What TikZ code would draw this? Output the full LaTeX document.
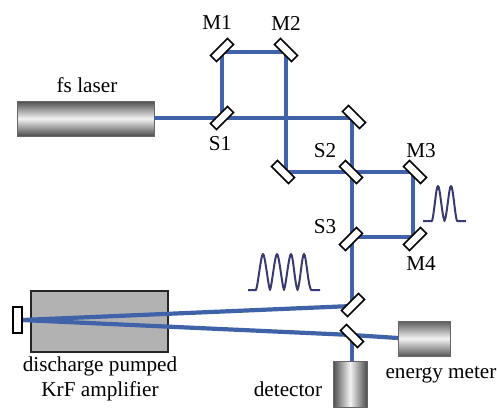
\documentclass[tikz,border=0pt]{standalone}
\usepackage{fontspec}
\setmainfont{Liberation Serif}
\definecolor{beamblue}{HTML}{3F62A8}
\definecolor{pulseblue}{HTML}{3A3A72}
\tikzset{
  mirror/.style={draw=black, fill=white, line width=1.5pt, rectangle, minimum width=24pt, minimum height=8.5pt, inner sep=0pt},
  beam/.style={draw=beamblue, line width=4.2pt},
  pulse/.style={draw=pulseblue, line width=2pt, line join=round},
  lbl/.style={font=\fontsize{21.2}{25}\selectfont, inner sep=0pt}
}
\begin{document}
\begin{tikzpicture}[x=1pt,y=-1pt]
\useasboundingbox (0,0) rectangle (497,407);
\coordinate (hlaser) at (154,118);
\coordinate (hS1) at (222,118);
\coordinate (hM1) at (222,52);
\coordinate (hM2) at (286,52);
\coordinate (hM5) at (352,118);
\coordinate (hM6) at (286,172);
\coordinate (hS2) at (352,172);
\coordinate (hM3) at (413,172);
\coordinate (hM4) at (413,237);
\coordinate (hS3) at (352,237);
\coordinate (hM7) at (352,306);
\coordinate (hM8) at (352,335);
\coordinate (hend) at (22,320);
\coordinate (hmeter) at (398,338);
\coordinate (hdet) at (352,361);
% devices
\node[draw=black!85, line width=1.5pt, fill=black!30, minimum width=137pt, minimum height=61pt, inner sep=0pt] (amp) at (99.5,321.5){};
\shade[top color=black!70, bottom color=black!70, middle color=black!5] (17,101) rectangle (154,136);
\node[draw=black!60, line width=0.8pt, minimum width=137pt, minimum height=35pt, inner sep=0pt] (laser) at (85.5,118.5){};
\shade[top color=black!65, bottom color=black!65, middle color=black!5] (398,321) rectangle (450,356);
\node[draw=black!60, line width=0.8pt, minimum width=52pt, minimum height=35pt, inner sep=0pt] (meter) at (424,338.5){};
\shade[left color=black!70, right color=black!70, middle color=black!5] (333,361) rectangle (367,407);
\node[draw=black!60, line width=0.8pt, minimum width=34pt, minimum height=46pt, inner sep=0pt] (det) at (350,384){};
% beams
\draw[beam](hlaser) -- (hS1);
\draw[beam](hS1) -- (hM1);
\draw[beam](hM1) -- (hM2);
\draw[beam](hM2) -- (hM6);
\draw[beam](hS1) -- (hM5);
\draw[beam](hM5) -- (hM7);
\draw[beam](hM6) -- (hM3);
\draw[beam](hM3) -- (hM4);
\draw[beam](hM4) -- (hS3);
\draw[beam](hM7) -- (hend);
\draw[beam](hend) -- (hM8);
\draw[beam](hM8) -- (hmeter);
\draw[beam](hM8) -- (hdet);
% mirrors
\node[mirror, rotate=45] (M1) at (222,50){};
\node[mirror, rotate=-45] (M2) at (286,50){};
\node[mirror, rotate=45] (S1) at (222,118){};
\node[mirror, rotate=-45] (M5) at (354,117){};
\node[mirror, rotate=-45] (M6) at (283,172){};
\node[mirror, rotate=-45] (S2) at (351,172){};
\node[mirror, rotate=-45] (M3) at (415,172){};
\node[mirror, rotate=45] (S3) at (351,239){};
\node[mirror, rotate=45] (M4) at (415,239){};
\node[mirror, rotate=45] (M7) at (353,305){};
\node[mirror, rotate=-45] (M8) at (352,336){};
\node[draw=black, fill=white, line width=1.5pt, minimum width=9pt, minimum height=26pt, inner sep=0pt] (endm) at (17.5,320){};
% pulses
\draw[pulse] (423,221) -- (432,221) .. controls (434,216) and (436,186) .. (438,186) .. controls (440,186) and (442,216) .. (444.5,221) .. controls (447,216) and (449,186) .. (451,186) .. controls (453,186) and (455,216) .. (457,221) -- (466,221);
\draw[pulse] (248,290) -- (256,290) .. controls (258,285) and (261,254) .. (263,254) .. controls (265,254) and (268,285) .. (270,290) .. controls (272,285) and (275,254) .. (277,254) .. controls (279,254) and (282,285) .. (284,290) .. controls (286,285) and (289,254) .. (291,254) .. controls (293,254) and (295,285) .. (297.5,290) .. controls (300,285) and (302,254) .. (304,254) .. controls (306,254) and (308,285) .. (311,290) -- (320,290);
% labels
\node[lbl] (tM1) at (217,23){M1};
\node[lbl] (tM2) at (286,23){M2};
\node[lbl] (tS1) at (220,144){S1};
\node[lbl] (tS2) at (325,151){S2};
\node[lbl] (tM3) at (421,151){M3};
\node[lbl] (tS3) at (325,227){S3};
\node[lbl] (tM4) at (421,264){M4};
\node[lbl] (tlaser) at (87,85){fs laser};
\node[lbl] (tamp1) at (100,366){discharge pumped};
\node[lbl] (tamp2) at (100,391){KrF amplifier};
\node[lbl] (tdet) at (288,389){detector};
\node[lbl] (tmeter) at (441,375){energy meter};
\end{tikzpicture}
\end{document}
